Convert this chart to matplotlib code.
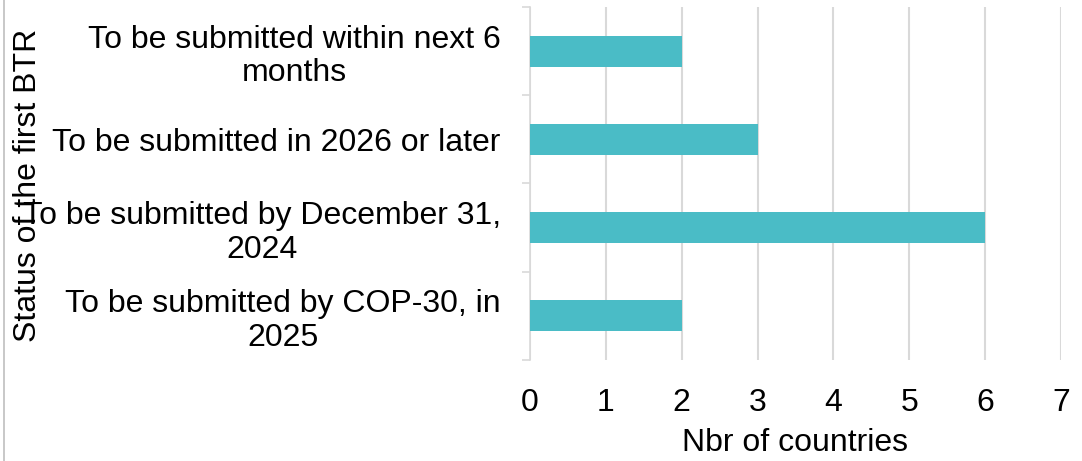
import matplotlib
matplotlib.use("Agg")
import matplotlib.pyplot as plt
from matplotlib.lines import Line2D
import numpy as np

plt.rcParams['font.family'] = ['Liberation Sans', 'DejaVu Sans']

categories = [
    "To be submitted within next 6\nmonths",
    "To be submitted in 2026 or later",
    "To be submitted by December 31,\n2024",
    "To be submitted by COP-30, in\n2025",
]
values = [2, 3, 6, 2]
x_ticks = [0, 1, 2, 3, 4, 5, 6, 7]

bar_color = "#4ABCC6"
grid_color = "#D9D9D9"
fs = 23

fig = plt.figure(figsize=(10.82, 4.61), dpi=100)
ax = fig.add_axes([530/1082, 1-360/461, (1061-530)/1082, (360-7)/461])

y = np.arange(len(categories))
ax.barh(y, values, height=0.35, color=bar_color, zorder=3)
ax.set_ylim(len(categories)-0.5, -0.5)
ax.set_xlim(0, 7)
ax.set_xticks(x_ticks)
ax.set_xticklabels([str(v) for v in x_ticks], fontsize=fs)
ax.tick_params(axis='x', length=0, pad=20)
ax.grid(axis='x', color=grid_color, linewidth=1.5, zorder=0)

ax.set_yticks(y)
ax.set_yticklabels(categories, fontsize=fs)
for lab in ax.get_yticklabels():
    lab.set_multialignment('center')
    lab.set_linespacing(1.15)
ax.tick_params(axis='y', which='major', length=0, pad=21)
ax.set_yticks(np.arange(-0.5, len(categories), 1.0), minor=True)
ax.tick_params(axis='y', which='minor', length=6, width=1.2, color=grid_color, direction='out')

for s in ['top', 'right', 'bottom']:
    ax.spines[s].set_visible(False)
ax.spines['left'].set_color(grid_color)
ax.spines['left'].set_linewidth(1.2)

fig.text(795/1082, 1-443/461, "Nbr of countries", fontsize=fs, ha='center', va='center')
fig.text(28/1082, 1-185/461, "Status of the first BTR", fontsize=fs, rotation=90,
         ha='center', va='center')

fig.add_artist(Line2D([4/1082, 4/1082], [0, 1], transform=fig.transFigure,
                      color="#BFBFBF", linewidth=1.2))

fig.savefig("out.png", dpi=100)
